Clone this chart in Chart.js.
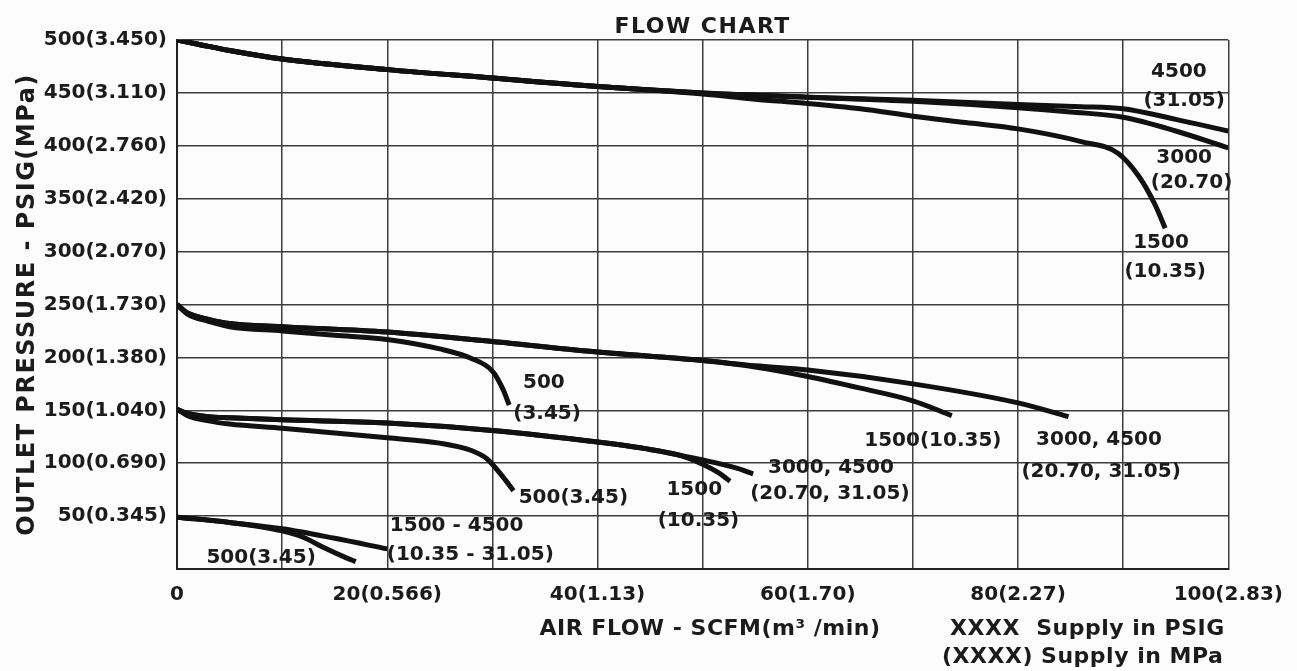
<!DOCTYPE html>
<html>
<head>
<meta charset="utf-8">
<title>Flow Chart</title>
<script src="https://cdn.jsdelivr.net/npm/chart.js@4.4.1/dist/chart.umd.min.js"></script>
<style>
  html, body { margin: 0; padding: 0; background: #fcfcfc; }
  #wrap { width: 1297px; height: 671px; position: relative; }
</style>
</head>
<body>
<div id="wrap"><canvas id="flowChart"></canvas></div>
<script>
// ---------- data ----------
const xTickValues = [0, 20, 40, 60, 80, 100];
const xTickLabels = ["0", "20(0.566)", "40(1.13)", "60(1.70)", "80(2.27)", "100(2.83)"];
const yTickValues = [50, 100, 150, 200, 250, 300, 350, 400, 450, 500];
const yTickLabels = ["50(0.345)", "100(0.690)", "150(1.040)", "200(1.380)", "250(1.730)",
  "300(2.070)", "350(2.420)", "400(2.760)", "450(3.110)", "500(3.450)"];

// curves as [air flow SCFM, outlet PSIG]
// outlet set at 500
const top4500 = [[0, 500], [2, 496], [5, 490], [10, 482], [20, 472], [30, 464], [40, 456], [50, 450],
  [60, 446], [70, 443], [80, 439], [86, 437], [90, 435], [95, 425], [100, 414]];
const top3000 = [[0, 500], [2, 496], [5, 490], [10, 482], [20, 472], [30, 464], [40, 456], [50, 450],
  [60, 446], [70, 442], [80, 436], [85, 432], [90, 427], [95, 414], [100, 398]];
const top1500 = [[0, 500], [2, 496], [5, 490], [10, 482], [20, 472], [30, 464], [40, 456], [50, 449],
  [55, 444], [60, 440], [65, 435], [70, 428], [75, 422], [80, 416], [86, 404], [89.5, 393],
  [91.5, 371], [93, 345], [94, 322]];
// outlet set at 250
const mid4500 = [[0, 250], [1, 242], [3, 236], [5, 232], [10, 229], [20, 224], [30, 215], [40, 205],
  [50, 197], [55, 192], [60, 188], [70, 175], [80, 157], [84.8, 144]];
const mid1500 = [[0, 250], [1, 242], [3, 236], [5, 232], [10, 229], [20, 224], [30, 215], [40, 205],
  [50, 197], [55, 191], [60, 182], [65, 171], [70, 159], [73.7, 145]];
const mid500 = [[0, 250], [1, 241], [3, 234], [5, 229], [10, 225], [15, 221], [20, 217], [25, 208],
  [28, 199], [30, 187], [31, 170], [31.6, 155]];
// outlet set at 150
const low4500 = [[0, 151], [1, 147], [3, 144], [5, 143], [10, 141], [20, 138], [30, 131], [40, 120],
  [45, 113], [50, 103], [53, 96], [54.8, 90]];
const low1500 = [[0, 151], [1, 147], [3, 144], [5, 143], [10, 141], [20, 138], [30, 131], [40, 120],
  [45, 113], [48, 107], [50, 99], [51.5, 91], [52.6, 83]];
const low500 = [[0, 151], [1, 145], [3, 140], [5, 137], [10, 133], [20, 124], [25, 119], [28, 112],
  [29.5, 104], [31, 87], [32, 74]];
// outlet set at 50
const base1500 = [[0, 49], [5, 44], [10, 38], [15, 29], [20, 19]];
const base500 = [[0, 49], [5, 44], [10, 36], [12, 30], [14, 20], [16, 11], [17, 7]];

const curves = [top4500, top3000, top1500, mid4500, mid1500, mid500, low4500, low1500, low500, base1500, base500];

// supply labels next to the curves: [text, flow, psig]
const curveLabels = [
  ["4500", 95.3, 470], ["(31.05)", 95.8, 443],
  ["3000", 95.8, 389], ["(20.70)", 96.5, 365],
  ["1500", 93.6, 308], ["(10.35)", 94.0, 281],
  ["500", 34.9, 176], ["(3.45)", 35.2, 147],
  ["1500(10.35)", 71.9, 121],
  ["3000, 4500", 87.7, 122], ["(20.70, 31.05)", 87.9, 92],
  ["500(3.45)", 37.7, 67],
  ["1500", 49.2, 75], ["(10.35)", 49.6, 46],
  ["3000, 4500", 62.2, 96], ["(20.70, 31.05)", 62.1, 71],
  ["500(3.45)", 8.0, 11],
  ["1500 - 4500", 26.6, 41], ["(10.35 - 31.05)", 27.9, 13]
];

// ---------- styles ----------
const INK = "#1b1b1b";
const GRID = "#3c3c3c";
const FONT = "'DejaVu Sans', 'Liberation Sans', sans-serif";

// ---------- text drawn on top (title, axis titles, curve labels) ----------
const textPlugin = {
  id: "flowText",
  afterDatasetsDraw(chart) {
    const { ctx, chartArea, scales } = chart;
    ctx.save();
    ctx.fillStyle = INK;
    ctx.textAlign = "center";
    ctx.textBaseline = "middle";

    ctx.font = "bold 20px " + FONT;
    curveLabels.forEach(([text, fx, py]) => {
      ctx.fillText(text, scales.x.getPixelForValue(fx), scales.y.getPixelForValue(py));
    });

    // title
    ctx.font = "bold 22px " + FONT;
    ctx.letterSpacing = "1.5px";
    ctx.fillText("FLOW CHART", (chartArea.left + chartArea.right) / 2, 27);

    // x title + supply key
    ctx.letterSpacing = "0.5px";
    ctx.fillText("AIR FLOW - SCFM(m\u00B3 /min)", 710, 629);
    ctx.textAlign = "left";
    ctx.fillText("XXXX  Supply in PSIG", 950, 629);
    ctx.fillText("(XXXX) Supply in MPa", 942, 657);

    // y title
    ctx.textAlign = "center";
    ctx.font = "bold 24px " + FONT;
    ctx.letterSpacing = "1.5px";
    ctx.translate(28, (chartArea.top + chartArea.bottom) / 2);
    ctx.rotate(-Math.PI / 2);
    ctx.fillText("OUTLET PRESSURE - PSIG(MPa)", 0, 0);
    ctx.restore();
  }
};

// ---------- chart ----------
const tickFont = { family: FONT, weight: "bold", size: 20 };

new Chart(document.getElementById("flowChart").getContext("2d"), {
  type: "line",
  data: {
    datasets: curves.map((pts) => ({
      data: pts.map(([x, y]) => ({ x, y })),
      borderColor: "#111",
      borderWidth: 5,
      pointRadius: 0,
      fill: false,
      cubicInterpolationMode: "monotone"
    }))
  },
  options: {
    responsive: true,
    maintainAspectRatio: false,
    animation: false,
    layout: { padding: { top: 40, right: 59, left: 0, bottom: 0 } },
    plugins: {
      legend: { display: false },
      title: { display: false },
      tooltip: { enabled: false }
    },
    scales: {
      x: {
        type: "linear",
        min: 0,
        max: 100,
        ticks: {
          stepSize: 10,
          autoSkip: false,
          maxRotation: 0,
          padding: 14,
          color: INK,
          font: tickFont,
          callback: (v) => {
            const i = xTickValues.indexOf(v);
            return i >= 0 ? xTickLabels[i] : "";
          }
        },
        grid: { color: GRID, lineWidth: 1.5, drawTicks: false },
        border: { color: "#222", width: 2 },
        afterFit: (scale) => { scale.height = 102; }
      },
      y: {
        min: 0,
        max: 500,
        ticks: {
          stepSize: 50,
          padding: 10,
          color: INK,
          font: tickFont,
          callback: (v) => {
            const i = yTickValues.indexOf(v);
            return i >= 0 ? yTickLabels[i] : "";
          }
        },
        grid: { color: GRID, lineWidth: 1.5, drawTicks: false },
        border: { color: "#222", width: 2 },
        afterFit: (scale) => { scale.width = 177; }
      }
    }
  },
  plugins: [textPlugin]
});
</script>
</body>
</html>
